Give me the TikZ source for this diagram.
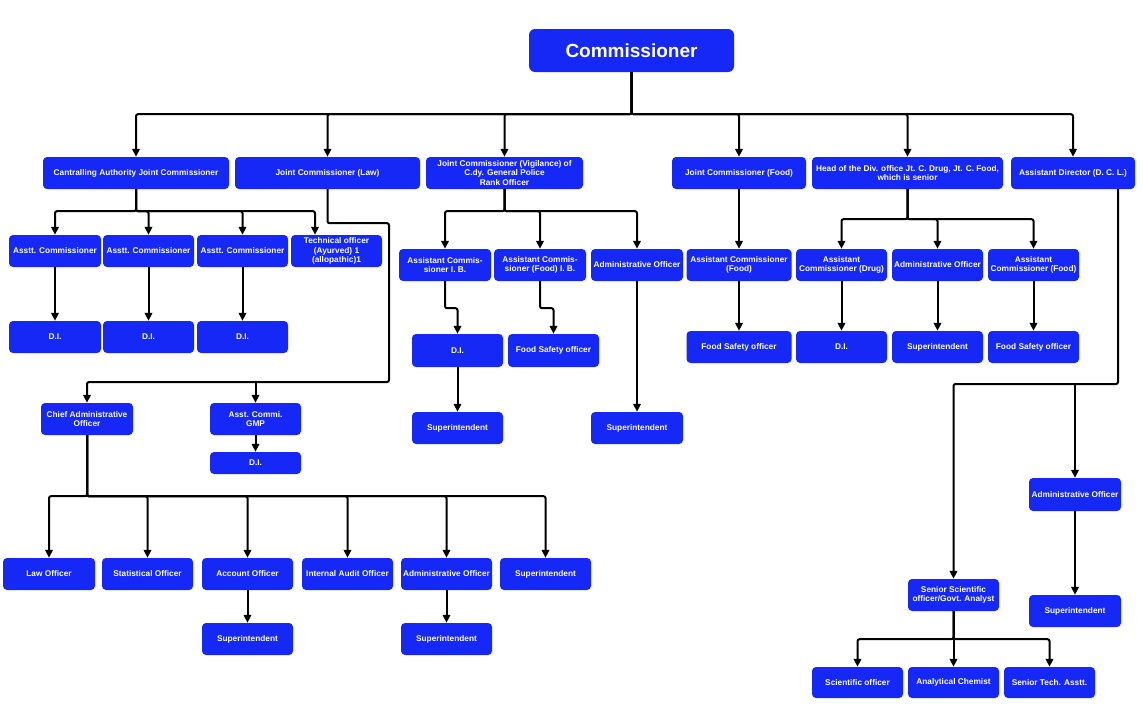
\documentclass[tikz,border=0pt]{standalone}
\usepackage{fontspec}
\setmainfont{Liberation Sans}
\usetikzlibrary{arrows.meta}
\definecolor{cblue}{RGB}{22,40,245}
\begin{document}
\begin{tikzpicture}[x=1pt,y=-1pt,
  bx/.style={fill=cblue, rounded corners=4pt, text=white,
    font=\fontsize{8.3}{9.3}\selectfont\bfseries, align=center,
    inner sep=0pt, minimum height=32pt, minimum width=92pt},
  w/.style={minimum width=#1},
  h/.style={minimum height=#1},
  arr/.style={line width=2pt, rounded corners=2pt, -{Triangle[length=8pt,width=7.5pt]}},
  ln/.style={line width=2pt, rounded corners=2pt}]
\useasboundingbox (0,0) rectangle (1143,728);

% Top
\node[bx, w=205pt, h=43pt, rounded corners=6pt, font=\fontsize{19}{21}\selectfont\bfseries] (comm) at (631.5,50.5) {Commissioner};

% Level 1
\node[bx, w=186pt] (caj) at (136,173) {Cantralling Authority Joint Commissioner};
\node[bx, w=185pt] (jcl) at (327.5,173) {Joint Commissioner (Law)};
\node[bx, w=157pt] (jcv) at (504.5,173) {Joint Commissioner (Vigilance) of\\C.dy. General Police\\Rank Officer};
\node[bx, w=134pt] (jcf) at (739,173) {Joint Commissioner (Food)};
\node[bx, w=191pt] (hod) at (907.5,173) {Head of the Div. office Jt. C. Drug, Jt. C. Food,\\which is senior};
\node[bx, w=124pt] (adir) at (1073,173) {Assistant Director (D. C. L.)};

% Under Cantralling
\node[bx] (a1) at (55,251) {Asstt. Commissioner};
\node[bx, w=91pt] (a2) at (148.5,251) {Asstt. Commissioner};
\node[bx, w=91pt] (a3) at (242.5,251) {Asstt. Commissioner};
\node[bx, w=91pt] (tech) at (336.5,251) {Technical officer\\(Ayurved) 1\\(allopathic)1};
\node[bx] (d1) at (55,337) {D.I.};
\node[bx, w=91pt] (d2) at (148.5,337) {D.I.};
\node[bx, w=91pt] (d3) at (242.5,337) {D.I.};

% Under Law
\node[bx] (cao) at (87,419) {Chief Administrative\\Officer};
\node[bx, w=91pt] (gmp) at (255.5,419) {Asst. Commi.\\GMP};
\node[bx, w=91pt, h=22pt] (gmpdi) at (255.5,463) {D.I.};
\node[bx] (law) at (49,574) {Law Officer};
\node[bx, w=91pt] (stat) at (147.5,574) {Statistical Officer};
\node[bx, w=91pt] (acct) at (247.5,574) {Account Officer};
\node[bx, w=91pt] (audit) at (347.5,574) {Internal Audit Officer};
\node[bx, w=91pt] (adm) at (446.5,574) {Administrative Officer};
\node[bx, w=91pt] (sup) at (545.5,574) {Superintendent};
\node[bx, w=91pt] (acs) at (247.5,639) {Superintendent};
\node[bx, w=91pt] (ads) at (446.5,639) {Superintendent};

% Under Vigilance
\node[bx] (acib) at (445,265) {Assistant Commis-\\sioner I. B.};
\node[bx] (acfib) at (540,265) {Assistant Commis-\\sioner (Food) I. B.};
\node[bx] (vadm) at (637,265) {Administrative Officer};
\node[bx, w=91pt, h=33pt] (vdi) at (457.5,350.5) {D.I.};
\node[bx, w=91pt, h=33pt] (vfso) at (553.5,350.5) {Food  Safety officer};
\node[bx, w=91pt] (vsup1) at (457.5,428) {Superintendent};
\node[bx] (vsup2) at (637,428) {Superintendent};

% Under Food
\node[bx, w=105pt] (fac) at (739,265) {Assistant Commissioner\\(Food)};
\node[bx, w=105pt] (ffso) at (739,347) {Food  Safety officer};

% Under Head of Div
\node[bx, w=91pt] (hacd) at (841.5,265) {Assistant\\Commissioner (Drug)};
\node[bx, w=91pt] (hadm) at (937.5,265) {Administrative Officer};
\node[bx, w=91pt] (hacf) at (1033.5,265) {Assistant\\Commissioner (Food)};
\node[bx, w=91pt] (hdi) at (841.5,347) {D.I.};
\node[bx, w=91pt] (hsup) at (937.5,347) {Superintendent};
\node[bx, w=91pt] (hfso) at (1033.5,347) {Food  Safety officer};

% Under Assistant Director
\node[bx, h=33pt] (dadm) at (1075,494.5) {Administrative Officer};
\node[bx] (dsup) at (1075,611) {Superintendent};
\node[bx, w=91pt] (ssci) at (953.5,595) {Senior  Scientific\\officer/Govt. Analyst};
\node[bx, w=91pt, h=31pt] (sco) at (857.5,682.5) {Scientific officer};
\node[bx, w=91pt, h=31pt] (ach) at (953.5,682.5) {Analytical Chemist};
\node[bx, w=91pt, h=31pt] (sta) at (1049.5,682.5) {Senior Tech. Asstt.};

% Connectors: Commissioner
\foreach \t in {caj,jcl,jcv,jcf,hod,adir}
  \draw[arr] (comm.south) -- ++(0,42) -| (\t.north);

% Cantralling
\foreach \t in {a1,a2,a3}
  \draw[arr] (caj.south) -- ++(0,22) -| (\t.north);
\draw[arr] (caj.south) -- ++(0,22) -| ([xshift=-21.5pt]tech.north);
\draw[arr] (a1.south) -- (d1.north);
\draw[arr] (a2.south) -- (d2.north);
\draw[arr] (a3.south) -- (d3.north);

% Law
\coordinate (jl1) at (389,382);
\draw[arr] (jcl.south) -- ++(0,34) -| (jl1) -| (cao.north);
\draw[arr] (gmp.north |- jl1) -- (gmp.north);
\draw[arr] (gmp.south) -- (gmpdi.north);
\foreach \t in {law,stat,acct,audit,adm,sup}
  \draw[arr] (cao.south) -- ++(0,61) -| (\t.north);
\draw[arr] (acct.south) -- (acs.north);
\draw[arr] (adm.south) -- (ads.north);

% Vigilance
\foreach \t in {acib,acfib,vadm}
  \draw[arr] (jcv.south) -- ++(0,22) -| (\t.north);
\draw[arr] (acib.south) -- ++(0,27) -| (vdi.north);
\draw[arr] (acfib.south) -- ++(0,27) -| (vfso.north);
\draw[arr] (vdi.south) -- (vsup1.north);
\draw[arr] (vadm.south) -- (vsup2.north);

% Food
\draw[arr] (jcf.south) -- (fac.north);
\draw[arr] (fac.south) -- (ffso.north);

% Head of Div
\foreach \t in {hacd,hadm,hacf}
  \draw[arr] (hod.south) -- ++(0,30) -| (\t.north);
\draw[arr] (hacd.south) -- (hdi.north);
\draw[arr] (hadm.south) -- (hsup.north);
\draw[arr] (hacf.south) -- (hfso.north);

% Assistant Director
\coordinate (ad1) at (1118,384);
\draw[arr] ([xshift=45pt]adir.south) -- (ad1) -| (ssci.north);
\draw[arr] (dadm.north |- ad1) -- (dadm.north);
\draw[arr] (dadm.south) -- (dsup.north);
\foreach \t in {sco,ach,sta}
  \draw[arr] (ssci.south) -- ++(0,28) -| (\t.north);
\end{tikzpicture}
\end{document}
